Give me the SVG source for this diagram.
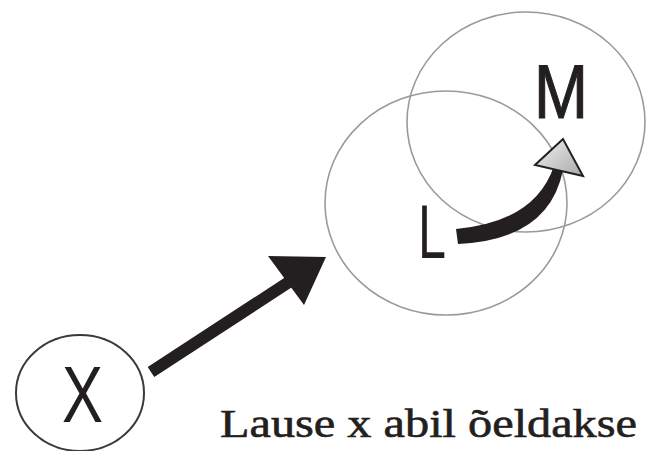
<svg xmlns="http://www.w3.org/2000/svg" width="646" height="451" viewBox="0 0 646 451">
<defs>
<style>
.ring{fill:none;stroke:#9a9a9a;stroke-width:1.6}
.xring{fill:none;stroke:#3a3a3a;stroke-width:2}
.lbl{font-family:"Liberation Sans",Arial,sans-serif;fill:#231f20}
.cap{font-family:"Liberation Serif","Times New Roman",serif;fill:#231f20;stroke:#231f20;stroke-width:0.6}
</style>
<linearGradient id="hg" x1="0" y1="0" x2="1" y2="1">
<stop offset="0" stop-color="#f2f2f2"/>
<stop offset="1" stop-color="#a8a8a8"/>
</linearGradient>
</defs>
<rect width="646" height="451" fill="#ffffff"/>
<g id="node-L">
<ellipse class="ring" cx="446" cy="203" rx="121" ry="112"/>
<text class="lbl" x="418" y="258" font-size="76" textLength="28" lengthAdjust="spacingAndGlyphs">L</text>
</g>
<g id="node-M">
<ellipse class="ring" cx="526" cy="122" rx="119" ry="110"/>
<text class="lbl" x="534" y="118" font-size="76" textLength="54" lengthAdjust="spacingAndGlyphs" stroke="#231f20" stroke-width="1.2">M</text>
</g>
<g id="node-X">
<ellipse class="xring" cx="80" cy="393" rx="64" ry="58"/>
<text class="lbl" x="62" y="422" font-size="80" textLength="41" lengthAdjust="spacingAndGlyphs">X</text>
</g>
<g id="connectors">
<line x1="151" y1="372" x2="292" y2="280" stroke="#231f20" stroke-width="12"/>
<polygon points="326,257 268,256 304,305" fill="#231f20"/>
<path d="M456,229 Q535,222 554,166 L563,170 Q549,240 458,244 Z" fill="#231f20"/>
<polygon points="563,139 535,165 583,176" fill="url(#hg)" stroke="#231f20" stroke-width="2"/>
</g>
<text class="cap" x="220" y="437" font-size="40" textLength="417" lengthAdjust="spacingAndGlyphs">Lause x abil õeldakse</text>
</svg>
